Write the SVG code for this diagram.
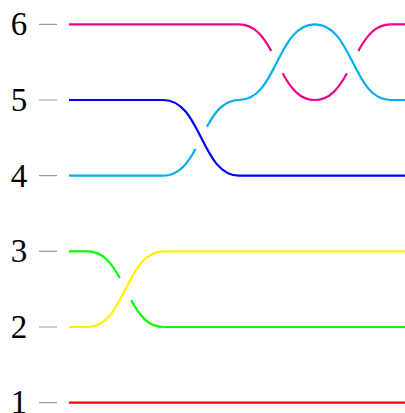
<svg xmlns="http://www.w3.org/2000/svg" width="405" height="413" viewBox="0 0 405 413">
<style>
.lbl{font-family:"Liberation Serif","DejaVu Serif",serif;font-size:33px;fill:#000;text-anchor:middle}
.tick{stroke:#9a9a9a;stroke-width:1.2}
.s{fill:none;stroke-width:2.2;stroke-linecap:butt}
.u{stroke-dasharray:39 22 39}
.red{stroke:#FF0000}.yel{stroke:#FFF000}.grn{stroke:#00FF00}.blu{stroke:#0000FF}.cyn{stroke:#00AEEF}.mag{stroke:#EC008C}
</style>
<rect width="405" height="413" fill="#fff"/>
<g id="axis">
<text class="lbl" x="19" y="412.5">1</text>
<text class="lbl" x="19" y="338">2</text>
<text class="lbl" x="19" y="262.3">3</text>
<text class="lbl" x="19" y="186.7">4</text>
<text class="lbl" x="19" y="111">5</text>
<text class="lbl" x="19" y="35.3">6</text>
<path class="tick" d="M39,402.7H57M39,327H57M39,251.3H57M39,175.7H57M39,100H57M39,24.3H57"/>
</g>
<g id="connectors">
<g id="strand-red"><path class="s red" d="M69,402.7H405"/></g>
<g id="strand-green">
<path class="s grn" d="M69,251.3H87.7"/>
<path class="s grn u" pathLength="100" d="M87.7,251.3C125.5,251.3 125.5,327 163.4,327"/>
<path class="s grn" d="M163.4,327H405"/>
</g>
<g id="strand-yellow"><path class="s yel" d="M69,327H87.7C125.5,327 125.5,251.3 163.4,251.3H405"/></g>
<g id="strand-cyan">
<path class="s cyn" d="M69,175.7H163.4"/>
<path class="s cyn u" pathLength="100" d="M163.4,175.7C201.2,175.7 201.2,100 239.1,100"/>
<path class="s cyn" d="M239.1,100C277,100 277,24.3 314.8,24.3C352.6,24.3 352.6,100 390.5,100H405"/>
</g>
<g id="strand-blue"><path class="s blu" d="M69,100H163.4C201.2,100 201.2,175.7 239.1,175.7H405"/></g>
<g id="strand-magenta">
<path class="s mag" d="M69,24.3H239.1"/>
<path class="s mag u" pathLength="100" d="M239.1,24.3C277,24.3 277,100 314.8,100"/>
<path class="s mag u" pathLength="100" d="M314.8,100C352.6,100 352.6,24.3 390.5,24.3"/>
<path class="s mag" d="M390.5,24.3H405"/>
</g>
</g>
</svg>
